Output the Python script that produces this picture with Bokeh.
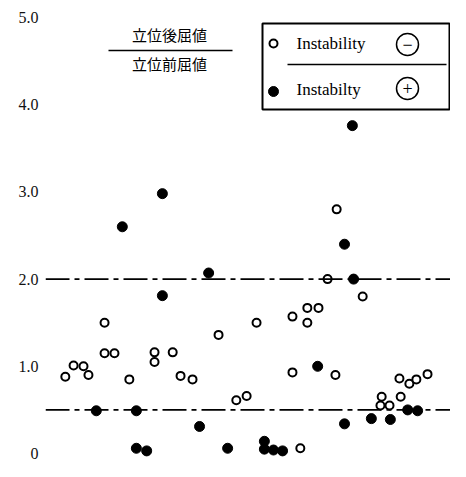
from bokeh.plotting import figure
from bokeh.models import Range1d, LinearAxis, FixedTicker, Span
from bokeh.core.properties import value
from bokeh.embed import file_html
from bokeh.resources import INLINE

# ---- data (x = relative case position 0-100, y = ratio) ----
neg_x = [4.8, 6.8, 9.2, 10.4, 14.3, 14.3, 16.7, 20.3, 26.4, 26.4, 30.8, 32.7,
         35.6, 41.9, 46.2, 48.7, 51.1, 59.8, 59.8, 61.7, 63.4, 63.4, 66.1,
         68.3, 70.5, 70.2, 76.8, 81.4, 81.1, 83.3, 86.0, 85.7, 88.1, 89.8, 92.5]
neg_y = [0.88, 1.01, 1.00, 0.90, 1.50, 1.15, 1.15, 0.85, 1.16, 1.05, 1.16, 0.89,
         0.85, 1.36, 0.61, 0.66, 1.50, 1.57, 0.93, 0.06, 1.67, 1.50, 1.67,
         2.00, 2.80, 0.90, 1.80, 0.65, 0.55, 0.55, 0.65, 0.86, 0.80, 0.85, 0.91]
pos_x = [12.3, 18.6, 22.0, 22.0, 24.5, 28.3, 28.3, 37.3, 39.5, 44.1, 53.0, 53.0,
         55.2, 57.4, 65.9, 72.4, 72.4, 74.3, 74.6, 78.9, 83.5, 87.7, 90.1]
pos_y = [0.49, 2.60, 0.49, 0.06, 0.03, 2.98, 1.81, 0.31, 2.07, 0.06, 0.14, 0.05,
         0.04, 0.03, 1.00, 2.40, 0.34, 3.76, 2.00, 0.40, 0.39, 0.50, 0.49]
y_ticks = [0, 1, 2, 3, 4, 5]
y_tick_labels = ["0", "1.0", "2.0", "3.0", "4.0", "5.0"]
ref_lines = [2.0, 0.5]
legend_labels = ["Instability", "Instabilty"]
legend_signs = ["\u2212", "+"]
title_top = "立位後屈値"
title_bottom = "立位前屈値"

SERIF = "Liberation Serif"
W, H = 450, 461

# helpers to place annotations by picture pixel position
def px(ix):
    return (ix - 45) / 4.13

def py(iy):
    return (453 - iy) / 87.2

p = figure(width=W, height=H, output_backend="svg", toolbar_location=None,
           x_range=Range1d(0, px(W)), y_range=Range1d(py(H), py(0)),
           x_axis_type=None, y_axis_type=None,
           min_border_left=45, min_border_right=0, min_border_top=0,
           min_border_bottom=0)
p.outline_line_color = None
p.background_fill_color = "white"
p.border_fill_color = "white"

yaxis = LinearAxis(
    ticker=FixedTicker(ticks=y_ticks),
    major_label_overrides={t: l for t, l in zip(y_ticks, y_tick_labels)},
    axis_line_color=None, major_tick_line_color=None, minor_tick_line_color=None,
    major_tick_out=0, major_tick_in=0, major_label_standoff=7,
    major_label_text_font=SERIF, major_label_text_font_size="16px",
    major_label_text_color="#111111")
p.add_layout(yaxis, "left")

for loc in ref_lines:
    p.add_layout(Span(location=loc, dimension="width", line_color="black",
                      line_width=1.6, line_dash="24 5 5 5"))

p.scatter(neg_x, neg_y, size=8, fill_color="white", line_color="black",
          line_width=2)
p.scatter(pos_x, pos_y, size=10, fill_color="black", line_color="black",
          line_width=1)

# title as fraction
p.text(x=[px(169)], y=[py(34)], text=[title_top], text_font=value("Noto Sans CJK JP"),
       text_font_size="15px", text_align="center", text_baseline="middle",
       text_color="black")
p.segment(x0=[px(108)], y0=[py(50)], x1=[px(232)], y1=[py(50)],
          line_color="black", line_width=1.6)
p.text(x=[px(169)], y=[py(63)], text=[title_bottom], text_font=value("Noto Sans CJK JP"),
       text_font_size="15px", text_align="center", text_baseline="middle",
       text_color="black")

# custom legend box
p.quad(left=[px(262)], right=[px(449)], top=[py(23)], bottom=[py(109)],
       fill_color="white", line_color="black", line_width=2)
p.segment(x0=[px(287)], y0=[py(64)], x1=[px(446)], y1=[py(64)],
          line_color="black", line_width=1.4)
p.scatter([px(273)], [py(43)], size=8, fill_color="white", line_color="black",
          line_width=2)
p.scatter([px(273)], [py(91)], size=10, fill_color="black", line_color="black")
p.text(x=[px(296), px(296)], y=[py(43), py(89)], text=legend_labels,
       text_font=value(SERIF), text_font_size="17px", text_align="left",
       text_baseline="middle", text_color="black")
p.scatter([px(407), px(407)], [py(44), py(88)], size=22, fill_color="white",
          line_color="black", line_width=1.5)
p.text(x=[px(407), px(407)], y=[py(44), py(88)], text=legend_signs,
       text_font=value(SERIF), text_font_size="18px", text_align="center",
       text_baseline="middle", text_color="black")

open("out.html", "w").write(file_html(p, INLINE))
